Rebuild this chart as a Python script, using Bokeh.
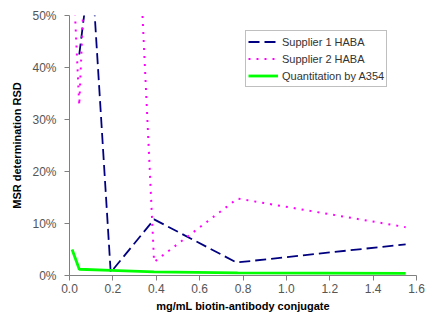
from bokeh.plotting import figure
from bokeh.models import Range1d, NumeralTickFormatter, FixedTicker, Legend, LegendItem
from bokeh.embed import file_html
from bokeh.resources import INLINE

# Data
s1_x = [0.045, 0.10, 0.19, 0.39, 0.77, 1.55]
s1_y = [0.425, 0.61, 0.006, 0.108, 0.025, 0.06]

s2_x = [0.02, 0.045, 0.19, 0.39, 0.775, 1.55]
s2_y = [0.55, 0.327, 1.80, 0.026, 0.148, 0.093]

a354_x = [0.012, 0.045, 0.19, 0.39, 0.775, 1.55]
a354_y = [0.05, 0.012, 0.010, 0.007, 0.005, 0.004]

x_ticks = [0.0, 0.2, 0.4, 0.6, 0.8, 1.0, 1.2, 1.4, 1.6]
y_ticks = [0.0, 0.1, 0.2, 0.3, 0.4, 0.5]

FONT = "Liberation Sans"

p = figure(width=425, height=314, output_backend="svg", toolbar_location=None,
           x_range=Range1d(0, 1.6), y_range=Range1d(0, 0.5),
           min_border_left=69, min_border_right=9, min_border_top=15, min_border_bottom=38)
p.outline_line_color = None
p.background_fill_color = "white"
p.border_fill_color = "white"
p.xgrid.grid_line_color = None
p.ygrid.grid_line_color = None

r1 = p.line(s1_x, s1_y, line_color="#000080", line_width=1.8, line_dash="11 5")
r2 = p.line(s2_x, s2_y, line_color="#FF00FF", line_width=2, line_dash="2 6")
r3 = p.line(a354_x, a354_y, line_color="#00FF00", line_width=2.8)

for ax in (p.xaxis[0], p.yaxis[0]):
    ax.axis_line_color = "#808080"
    ax.major_tick_line_color = "#808080"
    ax.major_tick_out = 5
    ax.major_tick_in = 0
    ax.minor_tick_line_color = None
    ax.major_label_text_font = FONT
    ax.major_label_text_font_size = "12px"
    ax.major_label_text_color = "#555555"
    ax.axis_label_text_font = FONT
    ax.axis_label_text_font_size = "11px"
    ax.axis_label_text_font_style = "bold"
    ax.axis_label_text_color = "#000000"

p.xaxis[0].ticker = FixedTicker(ticks=x_ticks)
p.xaxis[0].formatter = NumeralTickFormatter(format="0.0")
p.xaxis[0].axis_label = "mg/mL biotin-antibody conjugate"
p.xaxis[0].major_label_standoff = 3
p.xaxis[0].axis_label_standoff = 4

p.yaxis[0].ticker = FixedTicker(ticks=y_ticks)
p.yaxis[0].formatter = NumeralTickFormatter(format="0%")
p.yaxis[0].axis_label = "MSR determination RSD"
p.yaxis[0].major_label_standoff = 8
p.yaxis[0].axis_label_standoff = 6

legend = Legend(items=[
    LegendItem(label="Supplier 1 HABA", renderers=[r1]),
    LegendItem(label="Supplier 2 HABA", renderers=[r2]),
    LegendItem(label="Quantitation by A354", renderers=[r3]),
], location=(176, 188))
legend.label_text_font = FONT
legend.label_text_font_size = "11px"
legend.label_text_color = "#333333"
legend.glyph_width = 30
legend.glyph_height = 17
legend.label_height = 17
legend.label_standoff = 4
legend.spacing = 0
legend.padding = 2
legend.margin = 0
legend.border_line_color = "#808080"
legend.border_line_width = 1
legend.background_fill_color = "white"
p.add_layout(legend, "center")

open("out.html", "w").write(file_html(p, INLINE))
